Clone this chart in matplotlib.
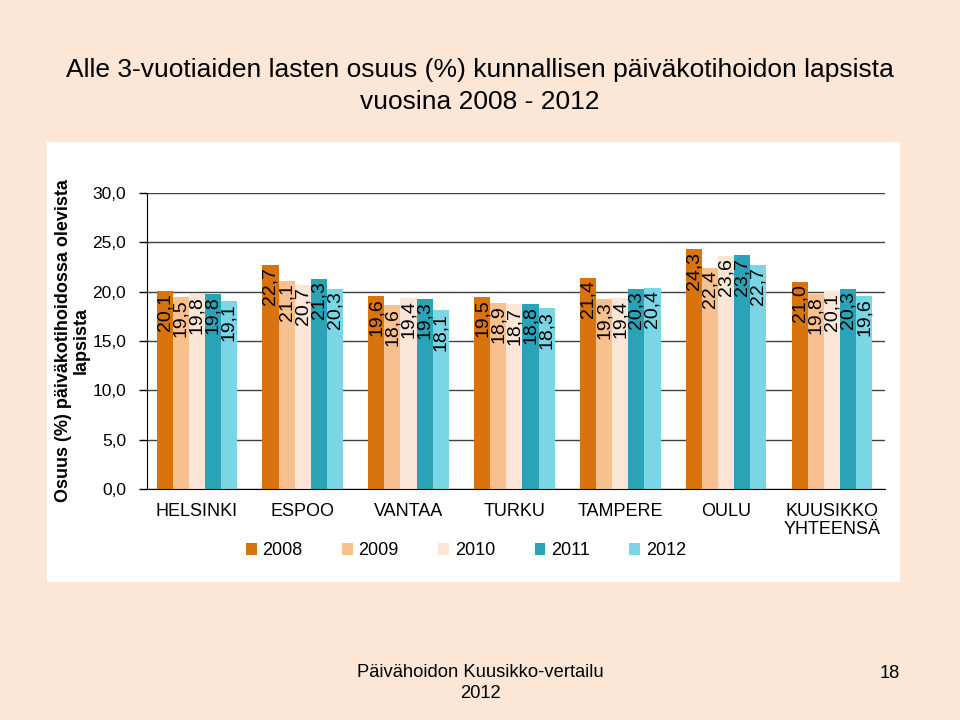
import numpy as np
import matplotlib
matplotlib.use("Agg")
import matplotlib.pyplot as plt
from matplotlib.patches import Rectangle

# data
cities = ["HELSINKI", "ESPOO", "VANTAA", "TURKU", "TAMPERE", "OULU", "KUUSIKKO\nYHTEENSÄ"]
years = ["2008", "2009", "2010", "2011", "2012"]
v2008 = [20.1, 22.7, 19.6, 19.5, 21.4, 24.3, 21.0]
v2009 = [19.5, 21.1, 18.6, 18.9, 19.3, 22.4, 19.8]
v2010 = [19.8, 20.7, 19.4, 18.7, 19.4, 23.6, 20.1]
v2011 = [19.8, 21.3, 19.3, 18.8, 20.3, 23.7, 20.3]
v2012 = [19.1, 20.3, 18.1, 18.3, 20.4, 22.7, 19.6]
colors = ["#D9730D", "#F9C08F", "#FBE5D6", "#2AA3B7", "#7AD5E4"]

plt.rcParams["font.family"] = ["Liberation Sans", "DejaVu Sans"]

fig = plt.figure(figsize=(9.6, 7.2), dpi=100)
fig.patch.set_facecolor("#FCE6D6")
# white panel behind the chart
fig.patches.append(Rectangle((47 / 960, 1 - 582 / 720), 853 / 960, 440 / 720,
                             transform=fig.transFigure, facecolor="white",
                             edgecolor="none", zorder=-10))

ax = fig.add_axes([147 / 960, 1 - 489 / 720, 738 / 960, 296 / 720])
ax.set_facecolor("white")

series = [v2008, v2009, v2010, v2011, v2012]
x = np.arange(len(cities))
w = 0.152
for i, (vals, yr, c) in enumerate(zip(series, years, colors)):
    pos = x + (i - 2) * w
    bars = ax.bar(pos, vals, width=w, color=c, label=yr, zorder=2)
    for b, v in zip(bars, vals):
        ax.text(b.get_x() + b.get_width() / 2, v - 0.25, f"{v:.1f}".replace(".", ","),
                rotation=90, ha="center", va="top", fontsize=14, zorder=3)

ax.set_ylim(0, 30)
ax.set_xlim(-0.47, 6.5)
ax.set_yticks(np.arange(0, 31, 5))
ax.set_yticklabels([f"{t:.1f}".replace(".", ",") for t in np.arange(0, 31, 5)], fontsize=12.5)
ax.yaxis.grid(True, color="#404040", linewidth=1.0, zorder=1)
ax.set_axisbelow(True)
ax.set_xticks(x)
ax.set_xticklabels(cities, fontsize=13, linespacing=1.05, va="top")
ax.tick_params(axis="x", length=0, pad=10)
ax.tick_params(axis="y", length=6, direction="out", pad=9, width=1)
for s in ["top", "right"]:
    ax.spines[s].set_visible(False)
ax.spines["left"].set_color("black")
ax.spines["bottom"].set_color("black")

ax.set_ylabel("Osuus (%) päiväkotihoidossa olevista\nlapsista", fontsize=13,
              fontweight="bold", linespacing=1.1)
ax.yaxis.set_label_coords(-0.077, 0.5)

ax.legend(loc="upper center", bbox_to_anchor=(0.432, -0.125), ncol=5, frameon=False,
          fontsize=13, handlelength=0.6, handleheight=0.6, handletextpad=0.3,
          columnspacing=2.2)

fig.text(0.5, 1 - 86 / 720, "Alle 3-vuotiaiden lasten osuus (%) kunnallisen päiväkotihoidon lapsista\nvuosina 2008 - 2012",
         ha="center", va="center", fontsize=19, linespacing=1.45)
fig.text(0.5, 1 - 683 / 720, "Päivähoidon Kuusikko-vertailu\n2012", ha="center",
         va="center", fontsize=13.2, linespacing=1.3)
fig.text(890 / 960, 1 - 673 / 720, "18", ha="center", va="center", fontsize=13.2)

fig.savefig("out.png", dpi=100, facecolor=fig.get_facecolor())
